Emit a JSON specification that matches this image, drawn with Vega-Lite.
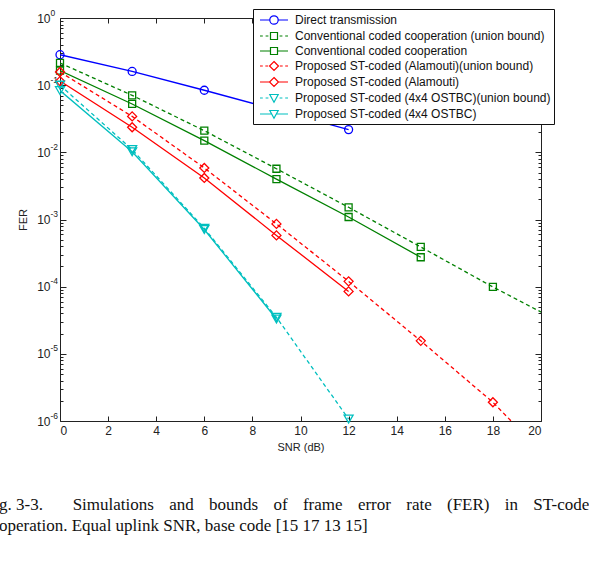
{
  "$schema": "https://vega.github.io/schema/vega-lite/v6.json",
  "width": 481,
  "height": 403,
  "autosize": {"type": "none"},
  "padding": {"left": 60, "top": 18, "right": 48, "bottom": 149},
  "background": "white",
  "title": {
    "text": [
      "g. 3-3.\u00a0\u00a0\u00a0\u00a0\u00a0\u00a0 Simulations\u00a0\u2009\u2009 and\u00a0\u2009\u2009 bounds\u00a0\u2009\u2009 of\u00a0\u2009\u2009 frame\u00a0\u2009\u2009 error\u00a0\u2009\u2009 rate\u00a0\u2009\u2009 (FER)\u00a0\u2009\u2009 in\u00a0\u2009\u2009 ST-code",
      "operation. Equal uplink SNR, base code [15 17 13 15]"
    ],
    "orient": "bottom",
    "anchor": "start",
    "frame": "group",
    "dx": -61,
    "offset": 19,
    "font": "Liberation Serif",
    "fontSize": 17,
    "fontWeight": "normal",
    "color": "#111111",
    "lineHeight": 21
  },
  "data": {
    "values": [
      {"series": "Direct transmission", "snr": 0, "fer": 0.284},
      {"series": "Direct transmission", "snr": 3, "fer": 0.16},
      {"series": "Direct transmission", "snr": 6, "fer": 0.084},
      {"series": "Direct transmission", "snr": 9, "fer": 0.043},
      {"series": "Direct transmission", "snr": 12, "fer": 0.0218},
      {"series": "Conventional coded cooperation (union bound)", "snr": 0, "fer": 0.214},
      {"series": "Conventional coded cooperation (union bound)", "snr": 3, "fer": 0.0705},
      {"series": "Conventional coded cooperation (union bound)", "snr": 6, "fer": 0.021},
      {"series": "Conventional coded cooperation (union bound)", "snr": 9, "fer": 0.0057},
      {"series": "Conventional coded cooperation (union bound)", "snr": 12, "fer": 0.00152},
      {"series": "Conventional coded cooperation (union bound)", "snr": 15, "fer": 0.00039},
      {"series": "Conventional coded cooperation (union bound)", "snr": 18, "fer": 0.000099},
      {"series": "Conventional coded cooperation (union bound)", "snr": 21, "fer": 0.0000273},
      {"series": "Conventional coded cooperation", "snr": 0, "fer": 0.165},
      {"series": "Conventional coded cooperation", "snr": 3, "fer": 0.0525},
      {"series": "Conventional coded cooperation", "snr": 6, "fer": 0.0149},
      {"series": "Conventional coded cooperation", "snr": 9, "fer": 0.004},
      {"series": "Conventional coded cooperation", "snr": 12, "fer": 0.00109},
      {"series": "Conventional coded cooperation", "snr": 15, "fer": 0.000274},
      {"series": "Proposed ST-coded (Alamouti)(union bound)", "snr": 0, "fer": 0.157},
      {"series": "Proposed ST-coded (Alamouti)(union bound)", "snr": 3, "fer": 0.0343},
      {"series": "Proposed ST-coded (Alamouti)(union bound)", "snr": 6, "fer": 0.00586},
      {"series": "Proposed ST-coded (Alamouti)(union bound)", "snr": 9, "fer": 0.00086},
      {"series": "Proposed ST-coded (Alamouti)(union bound)", "snr": 12, "fer": 0.00012},
      {"series": "Proposed ST-coded (Alamouti)(union bound)", "snr": 15, "fer": 0.0000156},
      {"series": "Proposed ST-coded (Alamouti)(union bound)", "snr": 18, "fer": 0.0000019},
      {"series": "Proposed ST-coded (Alamouti)(union bound)", "snr": 21, "fer": 0.00000015},
      {"series": "Proposed ST-coded (Alamouti)", "snr": 0, "fer": 0.115},
      {"series": "Proposed ST-coded (Alamouti)", "snr": 3, "fer": 0.0236},
      {"series": "Proposed ST-coded (Alamouti)", "snr": 6, "fer": 0.00416},
      {"series": "Proposed ST-coded (Alamouti)", "snr": 9, "fer": 0.00058},
      {"series": "Proposed ST-coded (Alamouti)", "snr": 12, "fer": 0.000085},
      {"series": "Proposed ST-coded (4x4 OSTBC)(union bound)", "snr": 0, "fer": 0.1},
      {"series": "Proposed ST-coded (4x4 OSTBC)(union bound)", "snr": 3, "fer": 0.011},
      {"series": "Proposed ST-coded (4x4 OSTBC)(union bound)", "snr": 6, "fer": 0.00074},
      {"series": "Proposed ST-coded (4x4 OSTBC)(union bound)", "snr": 9, "fer": 0.000035},
      {"series": "Proposed ST-coded (4x4 OSTBC)(union bound)", "snr": 12, "fer": 0.00000107},
      {"series": "Proposed ST-coded (4x4 OSTBC)", "snr": 0, "fer": 0.083},
      {"series": "Proposed ST-coded (4x4 OSTBC)", "snr": 3, "fer": 0.0102},
      {"series": "Proposed ST-coded (4x4 OSTBC)", "snr": 6, "fer": 0.00071},
      {"series": "Proposed ST-coded (4x4 OSTBC)", "snr": 9, "fer": 0.000033}
    ]
  },
  "resolve": {"axis": {"x": "independent", "y": "independent"}},
  "layer": [
    {
      "transform": [{"filter": "indexof(datum.series, 'union bound') < 0"}],
      "mark": {"type": "line", "clip": true, "strokeWidth": 1.3},
      "encoding": {
        "x": {"field": "snr", "type": "quantitative", "scale": {"domain": [0, 20], "nice": false, "zero": false},
          "axis": {"orient": "bottom", "values": [0, 2, 4, 6, 8, 10, 12, 14, 16, 18, 20], "title": "SNR (dB)", "tickSize": -5, "labelPadding": 9.5, "titlePadding": 5}},
        "y": {"field": "fer", "type": "quantitative", "scale": {"type": "log", "domain": [0.000001, 1], "nice": false},
          "axis": {"orient": "left", "values": [0.000001, 0.00001, 0.0001, 0.001, 0.01, 0.1, 1], "labelExpr": "'10'", "title": "FER", "tickSize": -6, "labelPadding": 16, "titlePadding": 8}},
        "color": {"field": "series", "type": "nominal",
          "scale": {"domain": ["Direct transmission", "Conventional coded cooperation (union bound)", "Conventional coded cooperation", "Proposed ST-coded (Alamouti)(union bound)", "Proposed ST-coded (Alamouti)", "Proposed ST-coded (4x4 OSTBC)(union bound)", "Proposed ST-coded (4x4 OSTBC)"],
            "range": ["#0000ff", "#008000", "#008000", "#ff0000", "#ff0000", "#00bfbf", "#00bfbf"]}}
      }
    },
    {
      "transform": [{"filter": "indexof(datum.series, 'union bound') >= 0"}],
      "mark": {"type": "line", "clip": true, "strokeWidth": 1.3, "strokeDash": [4, 3]},
      "encoding": {
        "x": {"field": "snr", "type": "quantitative", "axis": null},
        "y": {"field": "fer", "type": "quantitative", "axis": null},
        "color": {"field": "series", "type": "nominal"}
      }
    },
    {
      "transform": [{"filter": "datum.series == 'Direct transmission'"}],
      "mark": {"type": "point", "shape": "circle", "filled": false, "size": 64, "strokeWidth": 1.3, "opacity": 1},
      "encoding": {
        "x": {"field": "snr", "type": "quantitative",
          "axis": {"orient": "top", "values": [0, 2, 4, 6, 8, 10, 12, 14, 16, 18, 20], "labels": false, "title": null, "tickSize": -5}},
        "y": {"field": "fer", "type": "quantitative",
          "axis": {"orient": "right", "values": [0.000001, 0.00001, 0.0001, 0.001, 0.01, 0.1, 1], "labels": false, "title": null, "tickSize": -6}},
        "color": {"field": "series", "type": "nominal"}
      }
    },
    {
      "transform": [{"filter": "indexof(datum.series, 'Conventional') == 0 && datum.snr <= 20"}],
      "mark": {"type": "point", "shape": "square", "filled": false, "size": 49, "strokeWidth": 1.3, "opacity": 1},
      "encoding": {
        "x": {"field": "snr", "type": "quantitative", "axis": null},
        "y": {"field": "fer", "type": "quantitative",
          "axis": {"orient": "left", "values": [0.000002, 0.000003, 0.000004, 0.000005, 0.000006, 0.000007, 0.000008, 0.000009, 0.00002, 0.00003, 0.00004, 0.00005, 0.00006, 0.00007, 0.00008, 0.00009, 0.0002, 0.0003, 0.0004, 0.0005, 0.0006, 0.0007, 0.0008, 0.0009, 0.002, 0.003, 0.004, 0.005, 0.006, 0.007, 0.008, 0.009, 0.02, 0.03, 0.04, 0.05, 0.06, 0.07, 0.08, 0.09, 0.2, 0.3, 0.4, 0.5, 0.6, 0.7, 0.8, 0.9], "labels": false, "title": null, "tickSize": -3}},
        "color": {"field": "series", "type": "nominal"}
      }
    },
    {
      "transform": [{"filter": "indexof(datum.series, 'Alamouti') > 0 && datum.snr <= 20"}],
      "mark": {"type": "point", "shape": "diamond", "filled": false, "size": 81, "strokeWidth": 1.3, "opacity": 1},
      "encoding": {
        "x": {"field": "snr", "type": "quantitative", "axis": null},
        "y": {"field": "fer", "type": "quantitative",
          "axis": {"orient": "right", "values": [0.000002, 0.000003, 0.000004, 0.000005, 0.000006, 0.000007, 0.000008, 0.000009, 0.00002, 0.00003, 0.00004, 0.00005, 0.00006, 0.00007, 0.00008, 0.00009, 0.0002, 0.0003, 0.0004, 0.0005, 0.0006, 0.0007, 0.0008, 0.0009, 0.002, 0.003, 0.004, 0.005, 0.006, 0.007, 0.008, 0.009, 0.02, 0.03, 0.04, 0.05, 0.06, 0.07, 0.08, 0.09, 0.2, 0.3, 0.4, 0.5, 0.6, 0.7, 0.8, 0.9], "labels": false, "title": null, "tickSize": -3}},
        "color": {"field": "series", "type": "nominal"}
      }
    },
    {
      "transform": [{"filter": "indexof(datum.series, 'OSTBC') > 0 && datum.snr <= 20"}],
      "mark": {"type": "point", "shape": "triangle-down", "filled": false, "size": 81, "strokeWidth": 1.3, "opacity": 1},
      "encoding": {
        "x": {"field": "snr", "type": "quantitative", "axis": null},
        "y": {"field": "fer", "type": "quantitative",
          "axis": {"orient": "left", "values": [0.000001, 0.00001, 0.0001, 0.001, 0.01, 0.1, 1], "labelExpr": "['0','-1','-2','-3','-4','-5','-6'][round(-log(datum.value)/LN10)]", "labelAlign": "left", "labelFontSize": 8.5, "labelOffset": -6, "labelPadding": 10, "ticks": false, "tickSize": 0, "title": null}},
        "color": {"field": "series", "type": "nominal"}
      }
    },
    {
      "mark": {"type": "point", "opacity": 0, "filled": false},
      "encoding": {
        "x": {"field": "snr", "type": "quantitative", "axis": null},
        "y": {"field": "fer", "type": "quantitative", "axis": null},
        "color": {"field": "series", "type": "nominal",
          "legend": {"orient": "none", "legendX": 193, "legendY": -9, "title": null, "symbolOpacity": 1}},
        "shape": {"field": "series", "type": "nominal",
          "scale": {"domain": ["Direct transmission", "Conventional coded cooperation (union bound)", "Conventional coded cooperation", "Proposed ST-coded (Alamouti)(union bound)", "Proposed ST-coded (Alamouti)", "Proposed ST-coded (4x4 OSTBC)(union bound)", "Proposed ST-coded (4x4 OSTBC)"],
            "range": [
              "M-2,0H-0.6M0.6,0H2M0.6,0A0.6,0.6,0,1,1,-0.6,0A0.6,0.6,0,1,1,0.6,0Z",
              "M-2,0H-1.6M-1.2,0H-0.8M0.8,0H1.2M1.6,0H2M-0.5,-0.5H0.5V0.5H-0.5Z",
              "M-2,0H-0.5M0.5,0H2M-0.5,-0.5H0.5V0.5H-0.5Z",
              "M-2,0H-1.6M-1.24,0H-0.84M0.84,0H1.24M1.6,0H2M0,-0.64L0.64,0L0,0.64L-0.64,0Z",
              "M-2,0H-0.64M0.64,0H2M0,-0.64L0.64,0L0,0.64L-0.64,0Z",
              "M-2,0H-1.6M-1.2,0H-0.8M0.8,0H1.2M1.6,0H2M-0.6,-0.5L0.6,-0.5L0,0.6Z",
              "M-2,0H-0.32M0.32,0H2M-0.6,-0.5L0.6,-0.5L0,0.6Z"
            ]},
          "legend": {"orient": "none", "legendX": 193, "legendY": -9, "title": null, "symbolOpacity": 1}}
      }
    }
  ],
  "config": {
    "view": {"stroke": "#222222", "strokeWidth": 1},
    "axis": {
      "domain": false, "grid": false,
      "tickColor": "#222222", "tickWidth": 1,
      "labelFont": "Liberation Sans", "labelFontSize": 12, "labelColor": "#222222",
      "titleFont": "Liberation Sans", "titleFontSize": 11, "titleFontWeight": "normal", "titleColor": "#222222"
    },
    "legend": {
      "strokeColor": "#111111", "fillColor": "white", "padding": 3, "cornerRadius": 0,
      "labelFont": "Liberation Sans", "labelFontSize": 12, "labelColor": "#111111", "labelLimit": 0,
      "symbolSize": 196, "symbolStrokeWidth": 1.2, "symbolOpacity": 1, "symbolFillColor": "transparent",
      "rowPadding": 1, "labelOffset": 13, "symbolOffset": 10
    }
  }
}
